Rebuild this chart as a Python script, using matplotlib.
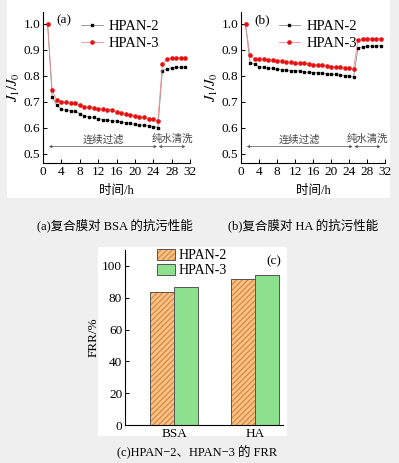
import numpy as np
import matplotlib
matplotlib.use('Agg')
import matplotlib.pyplot as plt
from matplotlib.patches import Rectangle, Patch

plt.rcParams['font.family'] = ['Liberation Serif', 'Noto Sans CJK SC']
plt.rcParams['mathtext.fontset'] = 'stix'

CJK = ['Liberation Serif', 'Noto Sans CJK SC', 'DejaVu Sans']

# --- data ---
hours = [1, 2, 3, 4, 5, 6, 7, 8, 9, 10, 11, 12, 13, 14, 15, 16, 17, 18, 19, 20,
         21, 22, 23, 24, 25, 26, 27, 28, 29, 30, 31]

# (a) BSA
bsa_hpan2 = [1.0, 0.718, 0.688, 0.671, 0.668, 0.665, 0.663, 0.655, 0.645, 0.643,
             0.640, 0.635, 0.632, 0.630, 0.628, 0.625, 0.623, 0.620, 0.617, 0.613,
             0.610, 0.610, 0.608, 0.605, 0.601,
             0.820, 0.827, 0.830, 0.832, 0.833, 0.833]
bsa_hpan3 = [1.0, 0.745, 0.706, 0.700, 0.698, 0.697, 0.695, 0.688, 0.682, 0.680,
             0.678, 0.673, 0.672, 0.670, 0.668, 0.660, 0.658, 0.655, 0.648, 0.645,
             0.643, 0.640, 0.635, 0.633, 0.628,
             0.845, 0.865, 0.868, 0.869, 0.870, 0.870]

# (b) HA
ha_hpan2 = [1.0, 0.850, 0.845, 0.835, 0.832, 0.830, 0.828, 0.825, 0.823, 0.822,
            0.820, 0.820, 0.818, 0.815, 0.813, 0.812, 0.812, 0.810, 0.808, 0.806,
            0.805, 0.803, 0.801, 0.799, 0.795,
            0.905, 0.912, 0.913, 0.914, 0.914, 0.915]
ha_hpan3 = [1.0, 0.878, 0.866, 0.865, 0.863, 0.862, 0.862, 0.858, 0.855, 0.853,
            0.852, 0.850, 0.848, 0.848, 0.845, 0.843, 0.842, 0.840, 0.838, 0.835,
            0.835, 0.832, 0.830, 0.828, 0.826,
            0.938, 0.942, 0.943, 0.943, 0.943, 0.943]

# (c) FRR
foulants = ['BSA', 'HA']
frr_hpan2 = [83.5, 91.8]
frr_hpan3 = [87.0, 94.5]

stage_ranges = [(1.3, 24.8), (25.2, 31.0)]
stage_names = ['连续过滤', '纯水清洗']

fig = plt.figure(figsize=(3.99, 4.63), dpi=100)
fig.patch.set_facecolor('#efefef')

W, H = 399, 463


def px_rect(x0, y0, x1, y1):
    return [x0 / W, 1 - y1 / H, (x1 - x0) / W, (y1 - y0) / H]


# white panels behind the subplots
for r in [px_rect(7, 0, 390, 198), px_rect(98, 247, 287, 436)]:
    fig.patches.append(Rectangle((r[0], r[1]), r[2], r[3], transform=fig.transFigure,
                                 facecolor='white', edgecolor='none', zorder=-5))


def flux_panel(rect, y2, y3, tag):
    ax = fig.add_axes(rect)
    ax.set_facecolor('none')
    ax.plot(hours, y2, color='#8c8c8c', lw=0.6, marker='s', ms=2.0,
            mfc='black', mec='black', label='HPAN-2')
    ax.plot(hours, y3, color='#e89090', lw=0.6, marker='o', ms=2.3,
            mfc='#e81010', mec='#e81010', label='HPAN-3')
    ax.set_xlim(0, 32)
    ax.set_ylim(0.465, 1.045)
    ax.set_xticks(np.arange(0, 33, 4))
    ax.set_yticks([0.5, 0.6, 0.7, 0.8, 0.9, 1.0])
    ax.set_yticklabels(['0.5', '0.6', '0.7', '0.8', '0.9', '1.0'])
    ax.tick_params(direction='in', length=3, width=0.7, labelsize=9.5, pad=2)
    for s in ['top', 'right']:
        ax.spines[s].set_visible(False)
    for s in ['left', 'bottom']:
        ax.spines[s].set_linewidth(0.8)
    ax.set_xlabel('时间/h', family=CJK, fontsize=9, labelpad=5)
    ax.set_ylabel(r'$J_{\mathrm{1}}/J_{\mathrm{0}}$', fontsize=10.5, labelpad=1)
    ax.text(0.09, 0.985, tag, transform=ax.transAxes, fontsize=9.5, va='top')
    ax.legend(loc='upper left', bbox_to_anchor=(0.22, 0.985), frameon=False,
              fontsize=10.5, handlelength=1.5, handletextpad=0.4,
              labelspacing=0.25, borderaxespad=0)
    for (x0, x1), name in zip(stage_ranges, stage_names):
        ax.annotate('', xy=(x0, 0.528), xytext=(x1, 0.528),
                    arrowprops=dict(arrowstyle='<|-|>', color='#555555', lw=0.5,
                                    mutation_scale=4, shrinkA=0, shrinkB=0))
        ax.text((x0 + x1) / 2, 0.537, name, family=CJK, fontsize=7.5,
                ha='center', va='bottom', color='#444444')
    return ax


flux_panel(px_rect(43, 12, 190, 163), bsa_hpan2, bsa_hpan3, '(a)')
flux_panel(px_rect(241, 12, 385, 163), ha_hpan2, ha_hpan3, '(b)')

fig.text(115 / W, 1 - 225 / H, '(a)复合膜对 BSA 的抗污性能', family=CJK,
         fontsize=9, ha='center', va='center')
fig.text(303 / W, 1 - 225 / H, '(b)复合膜对 HA 的抗污性能', family=CJK,
         fontsize=9, ha='center', va='center')

# --- (c) bar chart ---
axc = fig.add_axes(px_rect(125, 250, 283, 425))
axc.set_facecolor('none')
x = np.arange(len(foulants))
bw = 0.3
orange_face = '#f8c48e'
orange_hatch = '#e08a3a'
green = '#8de08d'
edge = '#555555'
axc.bar(x - bw / 2, frr_hpan2, bw, facecolor=orange_face, edgecolor=orange_hatch,
        hatch='//////', lw=0)
axc.bar(x - bw / 2, frr_hpan2, bw, fill=False, edgecolor=edge, lw=0.7)
axc.bar(x + bw / 2, frr_hpan3, bw, facecolor=green, edgecolor=edge, lw=0.7)
axc.set_xlim(-0.61, 1.35)
axc.set_ylim(0, 110)
axc.set_xticks(x)
axc.set_xticklabels(foulants)
axc.set_yticks(np.arange(0, 101, 20))
axc.tick_params(axis='y', direction='in', length=3, width=0.7, labelsize=9.5, pad=2)
axc.tick_params(axis='x', length=0, labelsize=9.5, pad=2)
for s in ['top', 'right']:
    axc.spines[s].set_visible(False)
for s in ['left', 'bottom']:
    axc.spines[s].set_linewidth(0.8)
axc.set_ylabel('FRR/%', fontsize=9.5, labelpad=2)
axc.text(0.99, 0.97, '(c)', transform=axc.transAxes, fontsize=9.5,
         ha='right', va='top')
h2 = (Patch(facecolor=orange_face, edgecolor=orange_hatch, hatch='//////', lw=0),
      Patch(fill=False, edgecolor=edge, lw=0.7))
h3 = Patch(facecolor=green, edgecolor=edge, lw=0.7)
axc.legend([h2, h3], ['HPAN-2', 'HPAN-3'], loc='upper left',
           bbox_to_anchor=(0.17, 1.04), frameon=False, fontsize=10,
           handlelength=1.3, handleheight=0.9, handletextpad=0.2,
           labelspacing=0.1, borderaxespad=0)

fig.text(197 / W, 1 - 452 / H, '(c)HPAN−2、HPAN−3 的 FRR', family=CJK,
         fontsize=9, ha='center', va='center')

fig.savefig('out.png', dpi=100, facecolor=fig.get_facecolor())
